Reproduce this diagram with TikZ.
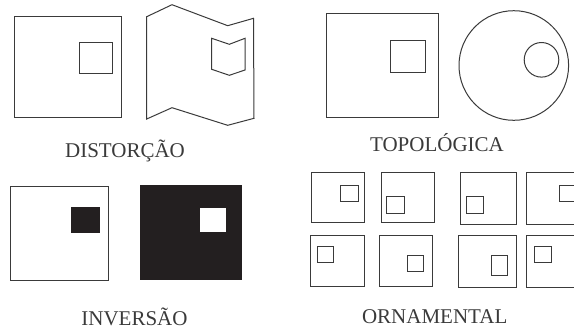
\documentclass[tikz,border=0pt]{standalone}
\usepackage{fontspec}
\setmainfont{Liberation Serif}
\definecolor{ink}{HTML}{3A3A3A}
\definecolor{fillk}{HTML}{231F20}
\begin{document}
\begin{tikzpicture}[x=1pt,y=-1pt,
  outl/.style={draw=ink,line width=1pt,line join=miter},
  lbl/.style={anchor=base,inner sep=0pt,text=ink,font=\fontsize{21}{24}\selectfont}]
\useasboundingbox (0,0) rectangle (574,330);
\clip (0,0) rectangle (574,330);
% DISTORCAO
\draw[outl] (14,16) rectangle (121,117);
\draw[outl] (79,42) rectangle (112,73);
\draw[outl] (146.7,16.7) -- (172,4.7) -- (227.7,25.7) -- (253.5,18.3) -- (254,118.3)
  -- (227.7,125.3) -- (172,107.7) -- (146.7,119) -- cycle;
\draw[outl] (211.7,38.3) -- (229.3,44.3) -- (245,38.3) -- (245,70) -- (229.3,75.3) -- (211.7,69.3) -- cycle;
\node[lbl] (dist) at (125,157.3) {DISTORÇÃO};
% TOPOLOGICA
\draw[outl] (326,13.3) rectangle (438.3,117.3);
\draw[outl] (390,40.7) rectangle (425,72.3);
\draw[outl] (513.8,65.5) circle[radius=54.8];
\draw[outl] (541.5,59.8) circle[radius=17.3];
\node[lbl] (topo) at (437,151.2) {TOPOLÓGICA};
% INVERSAO
\draw[outl] (10,186) rectangle (108.3,280);
\fill[fillk] (70.7,207.3) rectangle (100.3,232.7);
\fill[fillk] (140.3,185.3) rectangle (241.7,280.3);
\fill[white] (200,208.3) rectangle (226,231.7);
\node[lbl] (inv) at (134.5,325.5) {INVERSÃO};
% ORNAMENTAL
\draw[outl] (311.7,172.3) rectangle (364.3,222.3);
\draw[outl] (340,185) rectangle (358.3,201.3);
\draw[outl] (381,172.3) rectangle (434.3,222.3);
\draw[outl] (386,196.7) rectangle (404.3,213.3);
\draw[outl] (460,172.3) rectangle (516,224);
\draw[outl] (466.7,196.7) rectangle (483.3,213.3);
\draw[outl] (526,172.3) rectangle (590,224);
\draw[outl] (559.3,185) rectangle (585,201.3);
\draw[outl] (310.7,235) rectangle (364.3,286.7);
\draw[outl] (317.7,246) rectangle (333.7,262.3);
\draw[outl] (379.3,235) rectangle (432.7,286.7);
\draw[outl] (407.3,255) rectangle (423.7,271);
\draw[outl] (458.3,235) rectangle (516,287.7);
\draw[outl] (491,255) rectangle (507,275);
\draw[outl] (526,235) rectangle (590,287.7);
\draw[outl] (534.3,246.7) rectangle (551.7,262.3);
\node[lbl] (orn) at (434.7,323.3) {ORNAMENTAL};
\end{tikzpicture}
\end{document}
